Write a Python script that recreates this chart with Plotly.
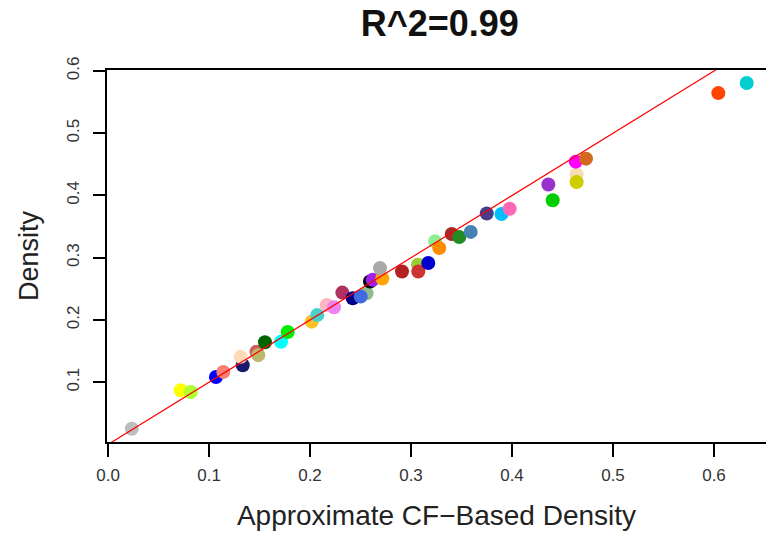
import plotly.graph_objects as go

# Data
approx_cf = [0.0235, 0.0720, 0.0819, 0.1069, 0.1142, 0.1470, 0.1334, 0.1314, 0.1488,
             0.1554, 0.1713, 0.1779, 0.2017, 0.2072, 0.2165, 0.2238, 0.2320, 0.2423,
             0.2560, 0.2502, 0.2594, 0.2621, 0.2716, 0.2693, 0.2911, 0.3069, 0.3072,
             0.3171, 0.3238, 0.3280, 0.3403, 0.3478, 0.3591, 0.3750, 0.3896, 0.3977,
             0.4360, 0.4403, 0.4640, 0.4631, 0.4733, 0.4640, 0.6043, 0.6324]
density = [0.0253, 0.0871, 0.0844, 0.1085, 0.1166, 0.1490, 0.1274, 0.1408, 0.1435,
           0.1642, 0.1650, 0.1806, 0.1973, 0.2081, 0.2242, 0.2205, 0.2440, 0.2350,
           0.2430, 0.2376, 0.2618, 0.2645, 0.2666, 0.2834, 0.2779, 0.2887, 0.2779,
           0.2915, 0.3263, 0.3156, 0.3382, 0.3334, 0.3415, 0.3710, 0.3702, 0.3787,
           0.4177, 0.3924, 0.4339, 0.4544, 0.4592, 0.4215, 0.5645, 0.5806]
point_colors = ["#BEBEBE", "#FFFF00", "#ADFF2F", "#0000FF", "#FA8072", "#CD5C5C",
                "#191970", "#FFDAB9", "#BDB76B", "#006400", "#00FFFF", "#00EE00",
                "#FFC125", "#48D1CC", "#FFB6C1", "#EE82EE", "#B03060", "#00008B",
                "#8FBC8F", "#4169E1", "#000000", "#A020F0", "#FFA500", "#A9A9A9",
                "#B22222", "#9ACD32", "#CD3333", "#0000CD", "#90EE90", "#FF8C00",
                "#A52A2A", "#228B22", "#4682B4", "#483D8B", "#00BFFF", "#FF69B4",
                "#9932CC", "#00CD00", "#F5DEB3", "#FF00FF", "#D2691E", "#CDCD00",
                "#FF4500", "#00CED1"]
fit_intercept = 0.0
fit_slope = 1.0
title_text = "R^2=0.99"
x_ticks = [0.0, 0.1, 0.2, 0.3, 0.4, 0.5, 0.6]
y_ticks = [0.1, 0.2, 0.3, 0.4, 0.5, 0.6]

x_range = [-0.001, 0.6515]
y_range = [0.004, 0.6016]

FONT = "Liberation Sans, Arial, Helvetica, sans-serif"

fig = go.Figure()
fig.add_trace(go.Scatter(
    x=approx_cf, y=density, mode="markers",
    marker=dict(size=14, color=point_colors, line=dict(width=0)),
    hoverinfo="x+y", showlegend=False, cliponaxis=False))

line_x = [x_range[0] - 0.05, x_range[1] + 0.05]
line_y = [fit_intercept + fit_slope * v for v in line_x]
fig.add_trace(go.Scatter(
    x=line_x, y=line_y, mode="lines",
    line=dict(color="#FF0000", width=1.2), showlegend=False, hoverinfo="skip"))

fig.update_layout(
    width=766, height=536,
    margin=dict(l=107, r=0, t=70, b=94),
    paper_bgcolor="white", plot_bgcolor="white",
    font=dict(family=FONT, color="#000000"),
    title=dict(text="<b>" + title_text + "</b>", x=0.505, xref="paper", xanchor="center",
               y=1 - 23 / 536, yanchor="middle",
               font=dict(size=36, family=FONT, color="#111111")),
)
fig.update_xaxes(
    range=x_range, tickvals=x_ticks, ticktext=["%.1f" % v for v in x_ticks],
    automargin=False,
    showgrid=False, zeroline=False, showline=True, linecolor="#000000", linewidth=1.5,
    mirror=True, ticks="outside", ticklen=13, tickwidth=1.5, tickcolor="#000000",
    tickfont=dict(size=17, color="#333333"), ticklabelstandoff=4,
    title=dict(text="Approximate CF\u2212Based Density", font=dict(size=28, color="#222222"),
               standoff=21),
)
fig.update_yaxes(
    range=y_range, tickvals=y_ticks, ticktext=["%.1f" % v for v in y_ticks],
    automargin=False,
    showgrid=False, zeroline=False, showline=True, linecolor="#000000", linewidth=1.5,
    mirror=False, ticks="outside", ticklen=12, tickwidth=1.5, tickcolor="#000000",
    tickangle=-90, tickfont=dict(size=17, color="#333333"), ticklabelstandoff=7,
    title=dict(text="Density", font=dict(size=27, color="#222222"), standoff=18),
)

fig.write_html(
    "out.html",
    config={"displayModeBar": False},
    post_script="document.body.style.margin='0';document.body.style.overflow='hidden';",
)
